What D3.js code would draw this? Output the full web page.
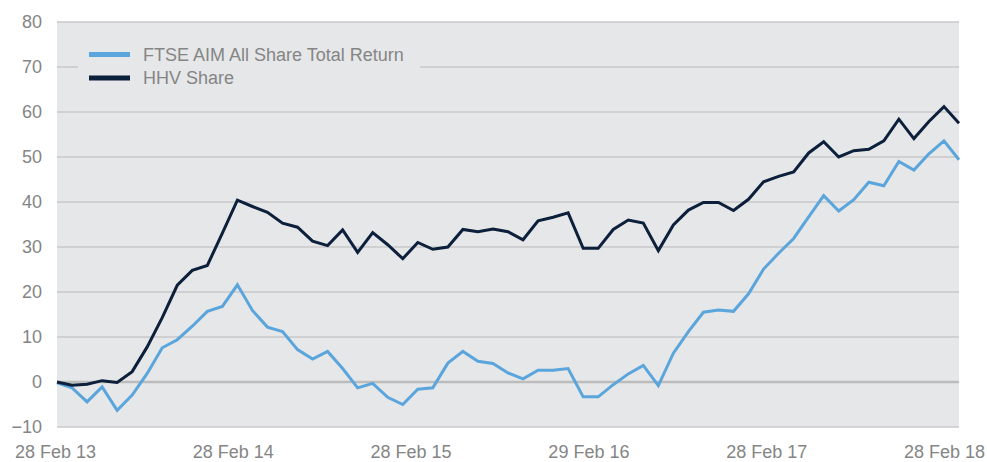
<!DOCTYPE html>
<html>
<head>
<meta charset="utf-8">
<script src="https://cdn.jsdelivr.net/npm/d3@7"></script>
<style>
  body { margin: 0; background: #fff; }
  #chart { width: 987px; height: 462px; }
  text { font-family: "Liberation Sans", Arial, sans-serif; }
</style>
</head>
<body>
<div id="chart"></div>
<script>
// Monthly points, 28 Feb 13 .. 28 Feb 18 (61 months)
const tickLabels = ["28 Feb 13", "28 Feb 14", "28 Feb 15", "29 Feb 16", "28 Feb 17", "28 Feb 18"];
const yTicks = [-10, 0, 10, 20, 30, 40, 50, 60, 70, 80];

const ftse = [
  -0.2, -1.3, -4.4, -1.1, -6.3, -2.9, 1.9, 7.6, 9.4, 12.4,
  15.7, 16.8, 21.6, 15.9, 12.2, 11.2, 7.2, 5.1, 6.8, 3.0,
  -1.3, -0.3, -3.4, -5.0, -1.6, -1.3, 4.2, 6.8, 4.6, 4.1,
  2.0, 0.7, 2.6, 2.6, 3.0, -3.3, -3.3, -0.6, 1.8, 3.7,
  -0.8, 6.4, 11.2, 15.5, 16.0, 15.7, 19.6, 25.1, 28.6, 31.9,
  36.7, 41.4, 38.0, 40.5, 44.4, 43.6, 49.0, 47.1, 50.7, 53.6,
  49.4
];
const hhv = [
  0.0, -0.7, -0.5, 0.3, -0.1, 2.3, 7.8, 14.3, 21.5, 24.8,
  25.9, 33.1, 40.4, 39.0, 37.7, 35.3, 34.4, 31.3, 30.3, 33.8,
  28.8, 33.2, 30.5, 27.4, 31.0, 29.5, 30.0, 33.9, 33.4, 34.0,
  33.4, 31.6, 35.8, 36.6, 37.6, 29.7, 29.7, 33.9, 36.0, 35.3,
  29.2, 34.9, 38.2, 39.9, 39.9, 38.1, 40.6, 44.5, 45.7, 46.7,
  50.9, 53.4, 50.0, 51.4, 51.7, 53.6, 58.4, 54.1, 57.9, 61.2,
  57.5
];

const seriesNames = ["FTSE AIM All Share Total Return", "HHV Share"];
const seriesColors = ["#5aa5dc", "#0c1f3b"];

const width = 987, height = 462;
const margin = { top: 22, right: 28, bottom: 35, left: 57 };
const plotW = width - margin.left - margin.right;
const plotH = height - margin.top - margin.bottom;

const svg = d3.select("#chart")
  .append("svg")
  .attr("width", width)
  .attr("height", height);

const x = d3.scaleLinear().domain([0, ftse.length - 1]).range([0, plotW]);
const y = d3.scaleLinear().domain([-10, 80]).range([plotH, 0]);

const g = svg.append("g")
  .attr("transform", `translate(${margin.left},${margin.top})`);

// plot background
g.append("rect")
  .attr("x", 0).attr("y", 0)
  .attr("width", plotW).attr("height", plotH)
  .attr("fill", "#e6e7e9");

// gridlines
g.append("g")
  .selectAll("line")
  .data(yTicks)
  .enter()
  .append("line")
  .attr("x1", 0).attr("x2", plotW)
  .attr("y1", d => y(d)).attr("y2", d => y(d))
  .attr("stroke", d => d === 0 ? "#bcbcbc" : "#c9c9cb")
  .attr("stroke-width", d => d === 0 ? 2.5 : 1.3);

// y axis labels
const yAxis = g.append("g")
  .call(d3.axisLeft(y).tickValues(yTicks).tickSize(0).tickPadding(15))
  .style("font-size", "18px");
yAxis.select(".domain").remove();
yAxis.selectAll("text")
  .attr("fill", "#858585")
  .style("font-family", "Liberation Sans, Arial, sans-serif");

// x axis labels
const xLab = d3.scalePoint().domain(tickLabels).range([-2, plotW - 15]);
const xAxis = g.append("g")
  .attr("transform", `translate(0,${plotH})`)
  .call(d3.axisBottom(xLab).tickSize(0).tickPadding(18))
  .style("font-size", "18px");
xAxis.select(".domain").remove();
xAxis.selectAll("text")
  .attr("fill", "#858585")
  .style("font-family", "Liberation Sans, Arial, sans-serif");

// legend box (covers gridline behind it)
g.append("rect")
  .attr("x", 21).attr("y", 20)
  .attr("width", 342).attr("height", 52)
  .attr("fill", "#e6e7e9");

// lines
const line = d3.line()
  .x((d, i) => x(i))
  .y(d => y(d));

[ftse, hhv].forEach((vals, k) => {
  g.append("path")
    .datum(vals)
    .attr("fill", "none")
    .attr("stroke", seriesColors[k])
    .attr("stroke-width", 3)
    .attr("stroke-linejoin", "miter")
    .attr("d", line);
});

// legend
const legend = g.append("g");
seriesNames.forEach((name, k) => {
  const ly = 32.5 + k * 23.5;
  legend.append("line")
    .attr("x1", 32).attr("x2", 73)
    .attr("y1", ly).attr("y2", ly)
    .attr("stroke", seriesColors[k])
    .attr("stroke-width", 5);
  legend.append("text")
    .attr("x", 86).attr("y", ly)
    .attr("dy", "0.35em")
    .attr("fill", "#858585")
    .style("font-size", "18px")
    .text(name);
});
</script>
</body>
</html>
